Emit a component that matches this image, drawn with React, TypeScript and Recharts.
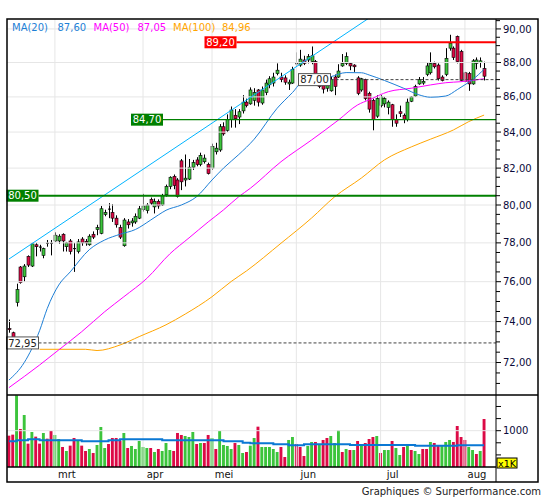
import React from 'react';
import { ComposedChart, Bar, Line, XAxis, YAxis, ReferenceLine } from 'recharts';

const GREEN = '#3cc43c';
const RED = '#dc0a46';
const GRID = '#e6e6e6';
const MA20_COLOR = '#1e7fd6';
const FONT = '"DejaVu Sans", Verdana, sans-serif';

// daily candles, end of Feb -> beginning of Aug
const open = [
  73.65, 73.45, 74.95, 76.75, 76.25, 77.3, 76.8, 77.9, 77.82, 77.35,
  78.02, 78.02, 78.1, 78.1, 78.45, 77.8, 78.1, 77.75, 77.55, 78.2,
  78.08, 77.9, 78.45, 78.7, 78.5, 79.5, 79.82, 79.6, 79.3, 78.8,
  77.85, 79.1, 79.05, 79.1, 79.3, 79.75, 79.7, 80.3, 79.9, 80.2,
  80.0, 80.55, 81.0, 81.55, 81.35, 82.4, 81.35, 81.4, 82.05, 82.45,
  82.2, 82.35, 82.2, 82.0, 82.9, 83.0, 84.3, 84.1, 84.7, 84.95,
  84.85, 85.2, 85.7, 85.6, 85.8, 86.4, 85.65, 86.25, 86.7, 86.8,
  87.35, 87.15, 87.1, 86.75, 86.8, 87.97, 87.85, 88.15, 88.15, 88.05,
  88.05, 87.0, 86.7, 86.5, 86.35, 87.15, 87.15, 87.8, 87.95, 87.95,
  87.85, 87.1, 86.4, 87.0, 86.2, 85.8, 84.9, 85.5, 85.6, 85.4,
  85.55, 84.7, 85.15, 84.95, 84.7, 85.75, 86.05, 86.75, 86.8, 87.3,
  87.4, 87.95, 87.85, 87.15, 87.3, 88.85, 88.85, 89.55, 88.65, 87.4,
  87.35, 86.75, 87.95, 88.0, 87.65,
];
const high = [
  74.1, 73.5, 75.9, 76.8, 76.9, 77.35, 78.0, 78.0, 77.9, 77.75,
  78.15, 78.15, 78.55, 78.45, 78.5, 78.05, 78.2, 78.0, 78.2, 78.3,
  78.2, 78.45, 78.6, 78.95, 79.95, 79.75, 80.1, 80.05, 79.45, 78.95,
  79.3, 79.25, 79.3, 79.55, 79.95, 80.6, 80.1, 80.4, 80.35, 80.3,
  80.6, 81.1, 81.55, 81.65, 81.45, 82.5, 82.75, 82.5, 82.45, 82.6,
  82.85, 82.75, 82.3, 83.35, 83.4, 84.45, 84.55, 85.0, 85.45, 85.3,
  85.3, 86.1, 85.9, 86.55, 86.5, 86.45, 86.6, 87.0, 87.2, 87.4,
  87.95, 87.4, 87.25, 87.0, 87.75, 88.6, 88.75, 88.4, 88.5, 88.95,
  88.15, 87.05, 86.75, 86.8, 87.15, 87.3, 87.9, 88.5, 88.6, 88.0,
  87.9, 87.2, 87.1, 87.05, 86.3, 85.9, 86.1, 86.1, 86.0, 85.8,
  85.6, 85.0, 85.5, 85.05, 85.9, 86.05, 86.7, 87.15, 87.15, 88.0,
  88.6, 88.05, 87.95, 87.25, 88.85, 89.65, 88.95, 89.6, 88.75, 87.45,
  87.45, 88.2, 88.3, 88.3, 88.05,
];
const low = [
  73.45, 73.0, 74.75, 75.9, 76.0, 76.75, 76.75, 77.3, 77.55, 77.2,
  77.8, 77.35, 78.05, 77.95, 77.55, 77.55, 77.4, 76.5, 77.45, 77.85,
  77.85, 77.85, 78.2, 78.4, 78.45, 79.4, 79.3, 79.1, 78.8, 78.2,
  77.8, 78.75, 78.85, 79.0, 79.25, 79.65, 79.55, 80.0, 79.55, 79.8,
  79.95, 80.45, 80.85, 80.85, 80.4, 80.8, 81.0, 81.35, 81.9, 82.1,
  82.1, 82.25, 81.65, 81.9, 82.75, 82.9, 83.8, 84.0, 84.25, 84.25,
  84.45, 85.05, 85.4, 85.55, 85.5, 85.45, 85.55, 86.1, 86.5, 86.6,
  87.25, 86.85, 86.7, 86.4, 86.75, 87.8, 87.75, 87.85, 87.95, 87.9,
  86.9, 86.5, 86.2, 86.3, 86.3, 86.1, 87.1, 87.75, 87.85, 87.55,
  87.45, 86.1, 86.3, 85.8, 85.1, 84.1, 84.8, 85.4, 85.4, 85.0,
  84.3, 84.3, 84.85, 84.5, 84.6, 85.7, 86.0, 86.7, 86.7, 87.2,
  87.3, 87.65, 86.95, 86.9, 87.2, 88.7, 88.15, 87.95, 86.9, 86.85,
  86.35, 86.7, 87.6, 87.7, 86.95,
];
const close = [
  73.6, 73.2, 75.6, 75.95, 76.8, 76.85, 77.95, 77.8, 77.78, 77.7,
  77.98, 77.98, 78.4, 78.35, 78.1, 78.0, 77.55, 77.7, 78.05, 78.0,
  78.0, 78.35, 78.3, 78.8, 79.8, 79.6, 79.78, 79.3, 78.95, 78.3,
  79.2, 78.95, 79.15, 79.4, 79.8, 79.95, 80.0, 80.1, 80.2, 79.95,
  80.5, 81.0, 81.5, 81.05, 80.45, 81.25, 81.45, 82.05, 82.3, 82.2,
  82.7, 82.55, 81.7, 83.2, 83.1, 84.3, 83.9, 84.7, 85.25, 84.75,
  85.15, 85.7, 85.5, 86.4, 86.25, 85.7, 86.4, 86.8, 87.05, 87.15,
  87.55, 87.0, 86.85, 86.85, 87.6, 87.93, 88.2, 87.95, 88.35, 88.4,
  87.0, 86.6, 86.45, 86.65, 87.0, 86.6, 87.5, 87.95, 88.35, 87.8,
  87.75, 86.2, 87.05, 85.9, 85.3, 84.7, 85.9, 86.0, 85.9, 85.7,
  84.7, 84.5, 85.05, 84.7, 85.7, 86.0, 86.6, 87.0, 86.9, 87.8,
  87.95, 87.75, 87.05, 86.95, 88.25, 89.15, 88.3, 88.05, 86.95, 86.9,
  86.75, 88.1, 88.15, 88.1, 87.2,
];

// volume in thousands, g = up day, r = down day
const volume = [
  863, 891, 1974, 1047, 1432, 643, 964, 836, 643, 937,
  781, 992, 882, 771, 551, 441, 588, 799, 744, 588,
  441, 496, 386, 606, 1102, 523, 634, 799, 799, 725,
  937, 523, 579, 496, 716, 551, 523, 523, 413, 496,
  441, 661, 468, 441, 937, 882, 854, 826, 964, 634,
  661, 661, 882, 799, 496, 992, 606, 579, 496, 661,
  606, 386, 413, 588, 799, 1111, 551, 551, 551, 496,
  413, 551, 275, 744, 826, 634, 551, 303, 579, 689,
  689, 634, 744, 799, 854, 661, 1019, 413, 496, 468,
  468, 716, 579, 661, 771, 826, 854, 386, 468, 468,
  716, 523, 331, 551, 634, 468, 441, 358, 496, 496,
  689, 661, 606, 606, 689, 744, 689, 1129, 826, 744,
  551, 468, 358, 441, 1322,
];
const volumeColor =
  'rrgrgrgrrg' + 'rrggrgrrgr' + 'rgrgggrrrr' + 'grgggggrgr' + 'gggrrrgggr' +
  'grrgrggggr' + 'ggrggrgggg' + 'grrggrrrgg' + 'rgrrgggrgr' + 'grgrrrgrgg' +
  'rggrgrggrr' + 'grrgggrrrr' + 'ggrgr';

// moving averages at a few candles
const ma20At = [0, 4, 8, 10, 13, 16, 21, 25, 29, 33, 37, 39, 41, 45, 49, 53, 56, 60, 64, 70, 74, 77, 84, 88, 92, 94, 98, 103, 107, 110, 114, 117, 119, 121, 124];
const ma20Val = [71.16, 72.0, 73.55, 74.65, 75.83, 76.5, 77.65, 78.15, 78.45, 78.7, 79.2, 79.47, 79.72, 80.0, 80.45, 81.35, 82.0, 82.75, 83.6, 85.35, 86.25, 86.95, 87.17, 87.41, 87.4, 87.27, 86.95, 86.5, 86.12, 85.98, 86.05, 86.42, 86.7, 87.0, 87.6];
const ma50At = [0, 8, 13, 19, 25, 30, 36, 42, 47, 52, 56, 60, 63, 71, 79, 86, 91, 94, 99, 105, 110, 114, 118, 124];
const ma50Val = [70.8, 71.88, 72.61, 73.5, 74.49, 75.24, 76.17, 77.43, 78.26, 79.1, 79.74, 80.45, 80.9, 82.35, 83.56, 84.68, 85.54, 85.83, 86.3, 86.5, 86.69, 86.82, 86.88, 87.05];
const ma100At = [8, 20, 23, 29, 34, 41, 46, 53, 58, 62, 71, 79, 85, 92, 98, 105, 110, 116, 120, 124];
const ma100Val = [72.64, 72.64, 72.58, 72.85, 73.26, 73.84, 74.37, 75.24, 76.01, 76.55, 77.98, 79.31, 80.44, 81.46, 82.45, 83.17, 83.6, 84.12, 84.59, 84.96];
const trendAt = [0, 124];
const trendVal = [77.16, 95.45];
const volAvgAt = [0, 2, 5, 8, 19, 26, 29, 40, 56, 61, 63, 69, 73, 77, 89, 106, 117, 124];
const volAvgVal = [707, 735, 762, 735, 707, 735, 762, 735, 707, 670, 652, 624, 597, 624, 606, 588, 597, 597];

const monthAt = [12, 35, 53, 75, 97, 119];
const monthLabels = ['mrt', 'apr', 'mei', 'jun', 'jul', 'aug'];
const priceMajor = [72, 74, 76, 78, 80, 82, 84, 86, 88, 90];
const priceTicks = [71, 71.5, 72, 72.5, 73, 73.5, 74, 74.5, 75, 75.5, 76, 76.5, 77, 77.5, 78, 78.5, 79, 79.5, 80, 80.5, 81, 81.5, 82, 82.5, 83, 83.5, 84, 84.5, 85, 85.5, 86, 86.5, 87, 87.5, 88, 88.5, 89, 89.5, 90, 90.5];
const volTicks = [333, 667, 1000, 1333, 1667];

const pick = (at: number[], val: number[], i: number) => {
  const k = at.indexOf(i);
  return k >= 0 ? val[k] : null;
};

const rows = open.map((o, i) => ({
  i,
  open: o,
  high: high[i],
  low: low[i],
  close: close[i],
  range: [low[i], high[i]],
  vol: volume[i],
  volUp: volumeColor[i] === 'g',
  ma20: pick(ma20At, ma20Val, i),
  ma50: pick(ma50At, ma50Val, i),
  ma100: pick(ma100At, ma100Val, i),
  trend: pick(trendAt, trendVal, i),
  volAvg: pick(volAvgAt, volAvgVal, i),
}));

const fmt = (v: number) => v.toFixed(2).replace('.', ',');

const Candle = (props: any) => {
  const { x, y, width, height, payload } = props;
  if (x == null || !payload) return null;
  const cx = Math.round(x + width / 2) + 0.5;
  const top = Math.min(y, y + height);
  const bot = Math.max(y, y + height);
  const lh = Math.log(payload.high);
  const ll = Math.log(payload.low);
  const py = (v: number) => (lh === ll ? top : top + ((lh - Math.log(v)) / (lh - ll)) * (bot - top));
  const yo = py(payload.open);
  const yc = py(payload.close);
  const up = payload.close >= payload.open;
  const bh = Math.abs(yo - yc);
  return (
    <g>
      <line x1={cx} x2={cx} y1={top} y2={bot} stroke="#000" strokeWidth={1} />
      {bh < 1 ? (
        <line x1={cx - 1.5} x2={cx + 1.5} y1={yc} y2={yc} stroke="#000" strokeWidth={1} />
      ) : (
        <rect x={cx - 1.5} y={Math.min(yo, yc)} width={3} height={bh} fill={up ? GREEN : RED} stroke="#000" strokeWidth={0.6} />
      )}
    </g>
  );
};

const VolBar = (props: any) => {
  const { x, y, width, height, payload } = props;
  if (x == null || !payload) return null;
  const cx = x + width / 2;
  return <rect x={cx - 1.45} y={y} width={2.9} height={height} fill={payload.volUp ? GREEN : RED} />;
};

const PriceTick = (props: any) => {
  const { x, y, payload } = props;
  const v = payload.value;
  const major = priceMajor.includes(v);
  return (
    <g>
      <line x1={x} x2={x + (major ? 5 : 4)} y1={y} y2={y} stroke="#000" />
      {major && (
        <text x={x + 7} y={y + 3.6} fontSize={10} fontFamily={FONT} fill="#0a0a3a">
          {fmt(v)}
        </text>
      )}
    </g>
  );
};

const VolTick = (props: any) => {
  const { x, y, payload } = props;
  const v = payload.value;
  return (
    <g>
      <line x1={x} x2={x + 5} y1={y} y2={y} stroke="#000" />
      {v === 1000 && (
        <text x={x + 7} y={y + 3.6} fontSize={10} fontFamily={FONT} fill="#0a0a3a">
          1000
        </text>
      )}
    </g>
  );
};

const MonthTick = (props: any) => {
  const { x, y, payload } = props;
  const k = monthAt.indexOf(payload.value);
  return (
    <text x={x + 12} y={y + 10.5} textAnchor="middle" fontSize={10} fontFamily={FONT} fill="#111">
      {monthLabels[k]}
    </text>
  );
};

type LevelOpts = {
  from: number;
  color: string;
  width: number;
  dash?: string;
  boxFill: string;
  boxStroke?: string;
  textColor: string;
  text: string;
};

// level line starts at its label box and runs to the right edge of the plot
const levelShape = (o: LevelOpts) => (p: any) => {
  const y = p.y1;
  const right = Math.max(p.x1, p.x2);
  return (
    <g>
      <line x1={o.from + 32} x2={right} y1={y} y2={y} stroke={o.color} strokeWidth={o.width} strokeDasharray={o.dash} />
      <rect x={o.from} y={y - 6} width={32} height={12} fill={o.boxFill} stroke={o.boxStroke ?? 'none'} strokeWidth={1} />
      <text x={o.from + 16} y={y + 3.7} textAnchor="middle" fontSize={10} fontFamily={FONT} fill={o.textColor}>
        {o.text}
      </text>
    </g>
  );
};

const xPad = { left: 0, right: 10 };

export default function App() {
  return (
    <div style={{ position: 'absolute', left: 0, top: 0, width: 545, height: 500, background: '#fff', fontFamily: FONT }}>
      <div style={{ position: 'absolute', left: 0, top: 0 }}>
        <ComposedChart width={545} height={395} data={rows} margin={{ top: 19, right: 0, bottom: 1, left: 7 }}>
          <XAxis dataKey="i" hide padding={xPad} />
          <YAxis
            orientation="right"
            scale="log"
            domain={[70.5, 90.6]}
            allowDataOverflow
            ticks={priceTicks}
            interval={0}
            width={49}
            axisLine={false}
            tickLine={false}
            tickSize={0}
            tickMargin={0}
            tick={(p: any) => <PriceTick {...p} />}
          />
          {priceMajor.map((v) => (
            <ReferenceLine key={'h' + v} y={v} stroke={GRID} strokeWidth={1} />
          ))}
          {monthAt.map((m) => (
            <ReferenceLine key={'v' + m} x={m} stroke={GRID} strokeWidth={1} />
          ))}
          <Line dataKey="ma100" stroke="#ffa500" strokeWidth={1} dot={false} connectNulls type="monotone" isAnimationActive={false} />
          <Line dataKey="ma50" stroke="#ff00ff" strokeWidth={1} dot={false} connectNulls type="monotone" isAnimationActive={false} />
          <Line dataKey="ma20" stroke={MA20_COLOR} strokeWidth={1} dot={false} connectNulls type="monotone" isAnimationActive={false} />
          <Line dataKey="trend" stroke="#00b4ff" strokeWidth={1} dot={false} connectNulls type="linear" isAnimationActive={false} />
          <Bar dataKey="range" shape={Candle} isAnimationActive={false} />
          <ReferenceLine y={89.2} shape={levelShape({ from: 204.5, color: '#ff0000', width: 2, boxFill: '#ff0000', textColor: '#fff', text: '89,20' })} />
          <ReferenceLine y={84.7} shape={levelShape({ from: 131, color: '#008000', width: 1.2, boxFill: '#008000', textColor: '#fff', text: '84,70' })} />
          <ReferenceLine y={80.5} shape={levelShape({ from: 6.5, color: '#008000', width: 2, boxFill: '#008000', textColor: '#fff', text: '80,50' })} />
          <ReferenceLine y={87} shape={levelShape({ from: 298.5, color: '#444', width: 1, dash: '3 2', boxFill: '#fff', boxStroke: '#555', textColor: '#222', text: '87,00' })} />
          <ReferenceLine y={72.95} shape={levelShape({ from: 6.5, color: '#444', width: 1, dash: '3 2', boxFill: '#fff', boxStroke: '#555', textColor: '#222', text: '72,95' })} />
        </ComposedChart>
      </div>
      <div style={{ position: 'absolute', left: 0, top: 395 }}>
        <ComposedChart width={545} height={87} data={rows} margin={{ top: 0, right: 0, bottom: 0, left: 7 }}>
          <XAxis
            dataKey="i"
            padding={xPad}
            ticks={monthAt}
            interval={0}
            height={15}
            axisLine={false}
            tickLine={false}
            tickSize={0}
            tickMargin={0}
            tick={(p: any) => <MonthTick {...p} />}
          />
          <YAxis
            orientation="right"
            domain={[0, 1983]}
            allowDataOverflow
            ticks={volTicks}
            interval={0}
            width={49}
            axisLine={false}
            tickLine={false}
            tickSize={0}
            tickMargin={0}
            tick={(p: any) => <VolTick {...p} />}
          />
          <ReferenceLine y={1000} stroke={GRID} strokeWidth={1} />
          {monthAt.map((m) => (
            <ReferenceLine key={'vv' + m} x={m} stroke={GRID} strokeWidth={1} />
          ))}
          <Bar dataKey="vol" shape={VolBar} isAnimationActive={false} />
          <Line dataKey="volAvg" stroke="#0a78d4" strokeWidth={2} dot={false} connectNulls type="stepAfter" isAnimationActive={false} />
        </ComposedChart>
      </div>
      <svg width={545} height={500} style={{ position: 'absolute', left: 0, top: 0, pointerEvents: 'none' }}>
        <g stroke="#000" strokeWidth={1.5} fill="none">
          <rect x={7} y={19} width={531} height={463} />
          <line x1={7} x2={538} y1={395} y2={395} />
          <line x1={7} x2={496} y1={467} y2={467} />
        </g>
        <line x1={496} x2={496} y1={19} y2={482} stroke="#000" strokeWidth={1} />
        <text y={31} fontSize={10} fontFamily={FONT}>
          <tspan x={12} fill={MA20_COLOR}>MA(20)</tspan>
          <tspan x={57.5} fill={MA20_COLOR}>87,60</tspan>
          <tspan x={93.5} fill="#ff00ff">MA(50)</tspan>
          <tspan x={137.5} fill="#ff00ff">87,05</tspan>
          <tspan x={173} fill="#ffa500">MA(100)</tspan>
          <tspan x={222} fill="#ffa500">84,96</tspan>
        </text>
        <rect x={497} y={458} width={20} height={10} fill="#ffff00" stroke="#000" strokeWidth={1} />
        <text x={507} y={466.5} textAnchor="middle" fontSize={9.5} fontFamily={FONT} fill="#000">
          x1K
        </text>
        <text x={541} y={495} textAnchor="end" fontSize={10} fontFamily={FONT} fill="#222">
          Graphiques © Surperformance.com
        </text>
      </svg>
    </div>
  );
}
